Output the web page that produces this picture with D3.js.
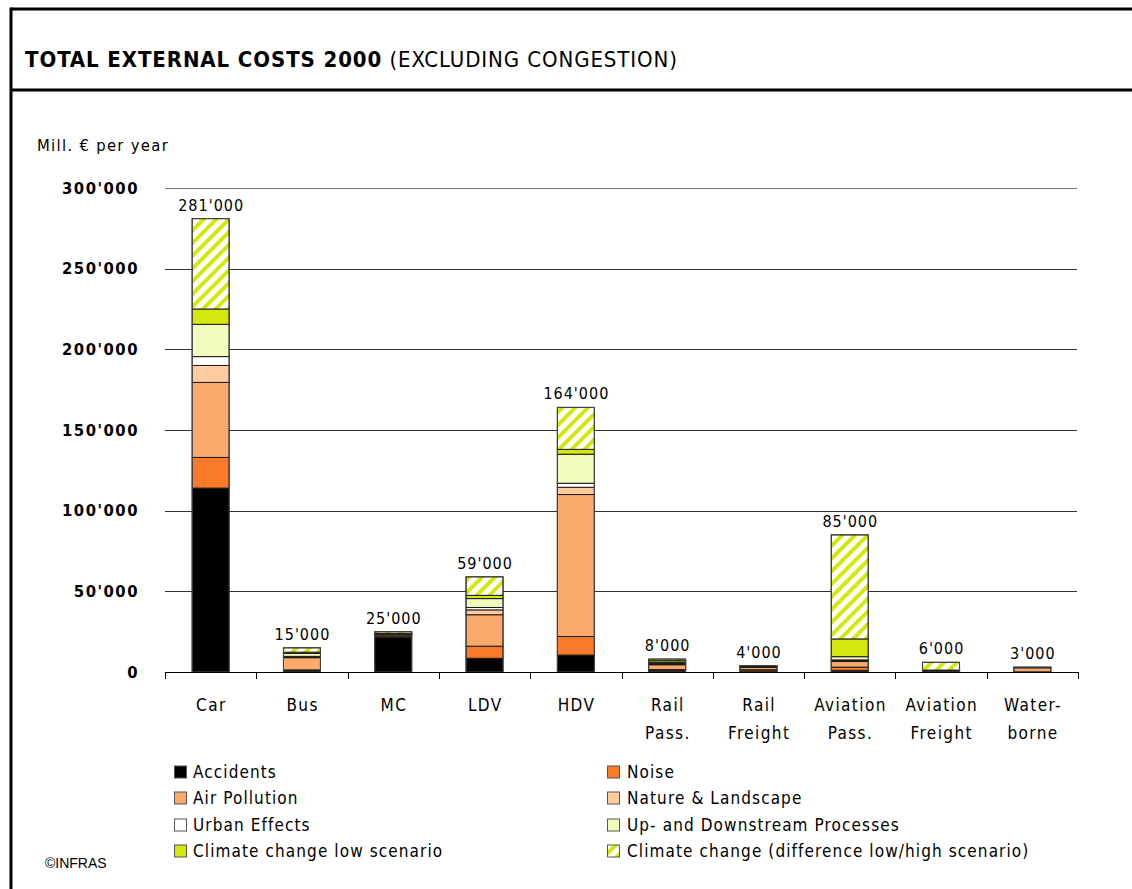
<!DOCTYPE html>
<html>
<head>
<meta charset="utf-8">
<script src="https://cdn.jsdelivr.net/npm/d3@7"></script>
<style>
  html, body { margin: 0; padding: 0; background: #fff; }
  svg { display: block; }
</style>
</head>
<body>
<svg id="chart" width="1132" height="889"></svg>
<script>
// Transport modes (line breaks mark the two-line axis labels)
const categories = ["Car", "Bus", "MC", "LDV", "HDV", "Rail\nPass.", "Rail\nFreight", "Aviation\nPass.", "Aviation\nFreight", "Water-\nborne"];

// Cost components, bottom to top of each stack (Mill. € per year)
const accidents      = [114000,  1000, 21500,  8500, 10500,  800,  600,  1000,    0,  100];
const noise          = [ 19000,   300,   800,  7500, 11500,  700,  800,  2000,  200,    0];
const airPollution   = [ 46500,  7600,   800, 19500, 88000, 3000, 1500,  3500,  300, 2500];
const natureLandscape= [ 10500,   500,   200,  3000,  4500,  500,  200,   500,  100,    0];
const urbanEffects   = [  5500,   300,   200,  1500,  2500,  300,  100,   500,  100,    0];
const upDownstream   = [ 20000,  1800,   200,  5500, 18000,  700,  300,  2000,  200,  200];
const climateLow     = [  9500,   800,   300,  2000,  3000, 1000,  500, 11000,  300,  200];
const climateDiff    = [ 56000,  2700,  1000, 11500, 26000, 1000,    0, 64500, 4800,    0];

// Totals printed above the bars
const totals = [281000, 15000, 25000, 59000, 164000, 8000, 4000, 85000, 6000, 3000];

const yTicks = [0, 50000, 100000, 150000, 200000, 250000, 300000];

const seriesNames = ["Accidents", "Noise", "Air Pollution", "Nature & Landscape", "Urban Effects",
  "Up- and Downstream Processes", "Climate change low scenario", "Climate change (difference low/high scenario)"];
const seriesValues = [accidents, noise, airPollution, natureLandscape, urbanEffects, upDownstream, climateLow, climateDiff];
const seriesColors = ["#000000", "#fb7a2a", "#fcaa6b", "#ffcc9f", "#ffffff", "#f2fbbd", "#d4e80e", "url(#hatch)"];

const svg = d3.select("#chart");
const font = '"DejaVu Sans Condensed", "DejaVu Sans", sans-serif';

// Hatch pattern for the high-scenario climate increment
const defs = svg.append("defs");
const pat = defs.append("pattern")
  .attr("id", "hatch")
  .attr("patternUnits", "userSpaceOnUse")
  .attr("width", 9).attr("height", 9)
  .attr("patternTransform", "rotate(45)");
pat.append("rect").attr("width", 9).attr("height", 9).attr("fill", "#ffffff");
pat.append("rect").attr("width", 4).attr("height", 9).attr("fill", "#d4e80e");

// Frame and title band
svg.append("line").attr("x1", 11).attr("x2", 1132).attr("y1", 9).attr("y2", 9)
  .attr("stroke", "#000").attr("stroke-width", 3);
svg.append("line").attr("x1", 11).attr("x2", 1132).attr("y1", 90).attr("y2", 90)
  .attr("stroke", "#000").attr("stroke-width", 3);
svg.append("line").attr("x1", 11).attr("x2", 11).attr("y1", 7.5).attr("y2", 889)
  .attr("stroke", "#000").attr("stroke-width", 3);

const title = svg.append("text").attr("x", 25).attr("y", 67)
  .attr("font-family", font).attr("font-size", 22).attr("letter-spacing", 0.9).attr("fill", "#000");
title.append("tspan").attr("font-weight", "bold").text("TOTAL EXTERNAL COSTS 2000");
title.append("tspan").attr("font-weight", "normal").text(" (EXCLUDING CONGESTION)");

svg.append("text").attr("x", 37).attr("y", 151)
  .attr("font-family", font).attr("font-size", 16.5).attr("letter-spacing", 1.3)
  .text("Mill. € per year");

// Scales
const plotLeft = 165, plotRight = 1078, plotTop = 188, plotBottom = 672;
const x = d3.scaleBand().domain(categories).range([plotLeft, plotRight])
  .paddingInner(0.595).paddingOuter(0.2975);
const y = d3.scaleLinear().domain([0, 300000]).range([plotBottom, plotTop]);

const fmt = v => d3.format(",")(v).replace(/,/g, "'");

// Horizontal gridlines
svg.append("g").selectAll("line").data(yTicks.filter(d => d > 0)).join("line")
  .attr("x1", plotLeft).attr("x2", plotRight - 1)
  .attr("y1", d => Math.round(y(d)) + 0.5).attr("y2", d => Math.round(y(d)) + 0.5)
  .attr("stroke", d => d === 300000 ? "#777" : "#333").attr("stroke-width", 1);

// Y axis labels
const yAxis = svg.append("g").attr("transform", `translate(${plotLeft},0)`)
  .call(d3.axisLeft(y).tickValues(yTicks).tickFormat(fmt).tickSize(0).tickPadding(26));
yAxis.select(".domain").remove();
yAxis.selectAll("text").attr("font-family", font).attr("font-size", 16.5)
  .attr("letter-spacing", 1.5).attr("font-weight", "bold").attr("fill", "#000");

// Stacked data
const keys = seriesNames;
const rows = categories.map((c, i) => {
  const r = { cat: c };
  keys.forEach((k, j) => r[k] = seriesValues[j][i]);
  return r;
});
const stack = d3.stack().keys(keys)(rows);

const layers = svg.append("g").selectAll("g").data(stack).join("g")
  .attr("fill", (d, i) => seriesColors[i]);
layers.selectAll("rect").data(d => d.filter(s => s[1] - s[0] > 0)).join("rect")
  .attr("x", d => x(d.data.cat))
  .attr("width", x.bandwidth())
  .attr("y", d => y(d[1]))
  .attr("height", d => y(d[0]) - y(d[1]))
  .attr("stroke", "#1a1a1a").attr("stroke-width", 1);

// Outline around each whole bar
svg.append("g").selectAll("rect").data(categories).join("rect")
  .attr("x", d => x(d)).attr("width", x.bandwidth())
  .attr("y", (d, i) => y(totals[i]))
  .attr("height", (d, i) => y(0) - y(totals[i]))
  .attr("fill", "none").attr("stroke", "#444").attr("stroke-width", 1);

// Total labels
svg.append("g").selectAll("text").data(categories).join("text")
  .attr("x", d => x(d) + x.bandwidth() / 2 + 0.5)
  .attr("y", (d, i) => y(totals[i]) - 8)
  .attr("text-anchor", "middle")
  .attr("font-family", font).attr("font-size", 16).attr("letter-spacing", 1)
  .attr("fill", "#000")
  .text((d, i) => fmt(totals[i]));

// Category axis: baseline with ticks at the band boundaries
const step = x.step();
const firstEdge = x(categories[0]) - x.paddingOuter() * step;
const edges = d3.range(categories.length + 1).map(i => firstEdge + i * step);
const xAxisG = svg.append("g");
xAxisG.append("line").attr("x1", edges[0]).attr("x2", edges[edges.length - 1])
  .attr("y1", plotBottom + 0.5).attr("y2", plotBottom + 0.5).attr("stroke", "#000");
xAxisG.selectAll("line.tick").data(edges).join("line").attr("class", "tick")
  .attr("x1", d => Math.round(d) + 0.5).attr("x2", d => Math.round(d) + 0.5)
  .attr("y1", plotBottom).attr("y2", plotBottom + 7).attr("stroke", "#000");

const catLabels = xAxisG.selectAll("text").data(categories).join("text")
  .attr("x", d => x(d) + x.bandwidth() / 2 + 0.7)
  .attr("y", 711)
  .attr("text-anchor", "middle")
  .attr("font-family", font).attr("font-size", 17).attr("letter-spacing", 1.4)
  .attr("fill", "#000");
catLabels.selectAll("tspan").data(d => d.split("\n")).join("tspan")
  .attr("x", function () { return this.parentNode.getAttribute("x"); })
  .attr("dy", (d, i) => i === 0 ? 0 : 28)
  .text(d => d);

// Legend: two columns, four rows
const legendCols = [174, 607];
const legendRows = [772, 798, 825, 851];
const legend = svg.append("g").selectAll("g").data(seriesNames).join("g")
  .attr("transform", (d, i) => `translate(${legendCols[i % 2]},${legendRows[Math.floor(i / 2)]})`);
legend.append("rect").attr("x", 0.5).attr("y", -6).attr("width", 12).attr("height", 12)
  .attr("fill", (d, i) => seriesColors[i]).attr("stroke", "#555").attr("stroke-width", 1);
legend.append("text").attr("x", (d, i) => i % 2 === 0 ? 19 : 20).attr("y", 6)
  .attr("font-family", font).attr("font-size", 17).attr("letter-spacing", 1.1)
  .attr("fill", "#000")
  .text(d => d);

svg.append("text").attr("x", 45).attr("y", 868)
  .attr("font-family", '"Liberation Sans", Arial, sans-serif').attr("font-size", 14)
  .text("©INFRAS");
</script>
</body>
</html>
